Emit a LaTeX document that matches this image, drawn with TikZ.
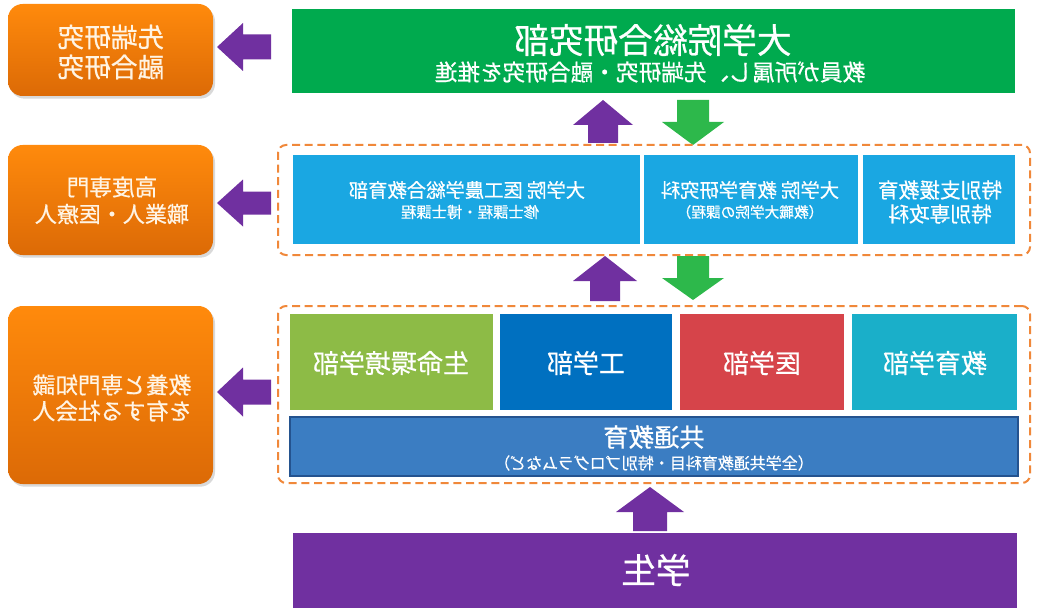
\documentclass[tikz,border=0pt]{standalone}
\usepackage{fontspec}
\usepackage{graphicx}
\newfontfamily\jp[FakeBold=0.6]{Noto Sans CJK JP}
\usetikzlibrary{shadows,fit}
\definecolor{orT}{HTML}{FF8A0C}
\definecolor{orB}{HTML}{DC6A06}
\definecolor{grn}{HTML}{00AA4E}
\definecolor{cyb}{HTML}{1AA7E2}
\definecolor{lgr}{HTML}{8DBB46}
\definecolor{dbl}{HTML}{0070C0}
\definecolor{rd}{HTML}{D6444A}
\definecolor{tl}{HTML}{1AAFC9}
\definecolor{kyo}{HTML}{3B7DC2}
\definecolor{kyob}{HTML}{24538F}
\definecolor{purp}{HTML}{7030A0}
\definecolor{garr}{HTML}{2DB84B}
\definecolor{dashc}{HTML}{F0883A}
\definecolor{cream}{HTML}{FFF4E4}
\newcommand\mt[2]{\reflectbox{\fontsize{#1}{#1}\selectfont #2}}
\tikzset{
  box/.style={inner sep=0pt, outer sep=0pt},
  obox/.style={box, rounded corners=11pt, top color=orT, bottom color=orB,
    drop shadow={opacity=0.3, shadow xshift=1.5pt, shadow yshift=-2pt}},
  dbox/.style={box, draw=dashc, line width=1.5pt, dash pattern=on 6pt off 3.5pt, rounded corners=6pt},
  lbl/.style={inner sep=0pt, text=white, font=\jp},
  olbl/.style={lbl, text=cream},
  parrow/.style={fill=purp},
  garrow/.style={fill=garr},
}
\begin{document}
\begin{tikzpicture}[x=0.75pt,y=-0.75pt]
\useasboundingbox (0,0) rectangle (1040,610);
% orange outcome boxes
\node[obox, fit={(8,4) (213,96)}] (o1) {};
\node[obox, fit={(8,145) (213,255)}] (o2) {};
\node[obox, fit={(8,306) (213,484)}] (o3) {};
\node[olbl] (o1a) at (111,37) {\mt{20}{先端研究}};
\node[olbl] (o1b) at (111,67) {\mt{20}{融合研究}};
\node[olbl] (o2a) at (112,187) {\mt{17}{高度専門}};
\node[olbl] (o2b) at (112,214) {\mt{16.5}{職業人・医療人}};
\node[olbl] (o3a) at (112,385) {\mt{17}{教養と専門知識}};
\node[olbl] (o3b) at (112,411) {\mt{17}{を有する社会人}};
% left arrows
\fill[parrow] (217,47) -- (243,23) -- (243,34.5) -- (271,34.5) -- (271,59.5) -- (243,59.5) -- (243,71) -- cycle;
\fill[parrow] (217,203) -- (243,179.5) -- (243,191.5) -- (271,191.5) -- (271,214.5) -- (243,214.5) -- (243,226.5) -- cycle;
\fill[parrow] (217,392) -- (243,367.5) -- (243,379.5) -- (271,379.5) -- (271,404.5) -- (243,404.5) -- (243,416.5) -- cycle;
% top green box
\node[box, fill=grn, fit={(292,9) (1015,93)}] (top) {};
\node[lbl] (topa) at (653,40) {\mt{26}{大学院総合研究部}};
\node[lbl] (topb) at (650,72) {\mt{17}{教員が所属し、先端研究・融合研究を推進}};
% arrows between top and graduate
\fill[parrow] (603,100) -- (633,125) -- (618,125) -- (618,143) -- (588,143) -- (588,125) -- (573,125) -- cycle;
\fill[garrow] (677,100) -- (709,100) -- (709,122) -- (724,122) -- (693,145) -- (662,122) -- (677,122) -- cycle;
% graduate level
\node[dbox, fit={(278,145) (1030,255)}] (grad) {};
\node[box, fill=cyb, fit={(293,155) (640,244)}] (g1) {};
\node[box, fill=cyb, fit={(644,155) (858,244)}] (g2) {};
\node[box, fill=cyb, fit={(863,155) (1015,244)}] (g3) {};
\node[lbl] (g1a) at (467,190) {\mt{14.5}{大学院 医工農学総合教育部}};
\node[lbl] (g1b) at (470,212) {\mt{11.5}{修士課程・博士課程}};
\node[lbl] (g2a) at (750,190) {\mt{14.5}{大学院 教育学研究科}};
\node[lbl] (g2b) at (750,212) {\mt{11}{（教職大学院の課程）}};
\node[lbl] (g3a) at (940,190) {\mt{15.5}{特別支援教育}};
\node[lbl] (g3b) at (940,214) {\mt{15.5}{特別専攻科}};
% arrows between graduate and undergraduate
\fill[parrow] (605,256) -- (637,281) -- (620,281) -- (620,301) -- (590,301) -- (590,281) -- (573,281) -- cycle;
\fill[garrow] (677,256) -- (709,256) -- (709,278) -- (724,278) -- (693,300) -- (662,278) -- (677,278) -- cycle;
% undergraduate level
\node[dbox, fit={(278,306) (1030,483)}] (ug) {};
\node[box, fill=lgr, fit={(290,314) (493,410)}] (u1) {};
\node[box, fill=dbl, fit={(500,314) (672,410)}] (u2) {};
\node[box, fill=rd, fit={(680,314) (844,410)}] (u3) {};
\node[box, fill=tl, fit={(852,314) (1017,410)}] (u4) {};
\node[lbl] (u1a) at (391,363) {\mt{19.5}{生命環境学部}};
\node[lbl] (u2a) at (586,363) {\mt{19.5}{工学部}};
\node[lbl] (u3a) at (762,363) {\mt{19.5}{医学部}};
\node[lbl] (u4a) at (935,363) {\mt{19.5}{教育学部}};
\node[box, fill=kyo, draw=kyob, line width=1pt, fit={(290,417) (1018,476)}] (kyotsu) {};
\node[lbl] (ka) at (654,437) {\mt{19}{共通教育}};
\node[lbl] (kb) at (654,463) {\mt{12}{（全学共通教育科目・特別プログラムなど）}};
% bottom arrow and students
\fill[parrow] (650,487) -- (684,512) -- (667,512) -- (667,531) -- (633,531) -- (633,512) -- (616,512) -- cycle;
\node[box, fill=purp, fit={(293,533) (1017,608)}] (stu) {};
\node[lbl] (stua) at (656,570) {\mt{26}{学生}};
\end{tikzpicture}
\end{document}
